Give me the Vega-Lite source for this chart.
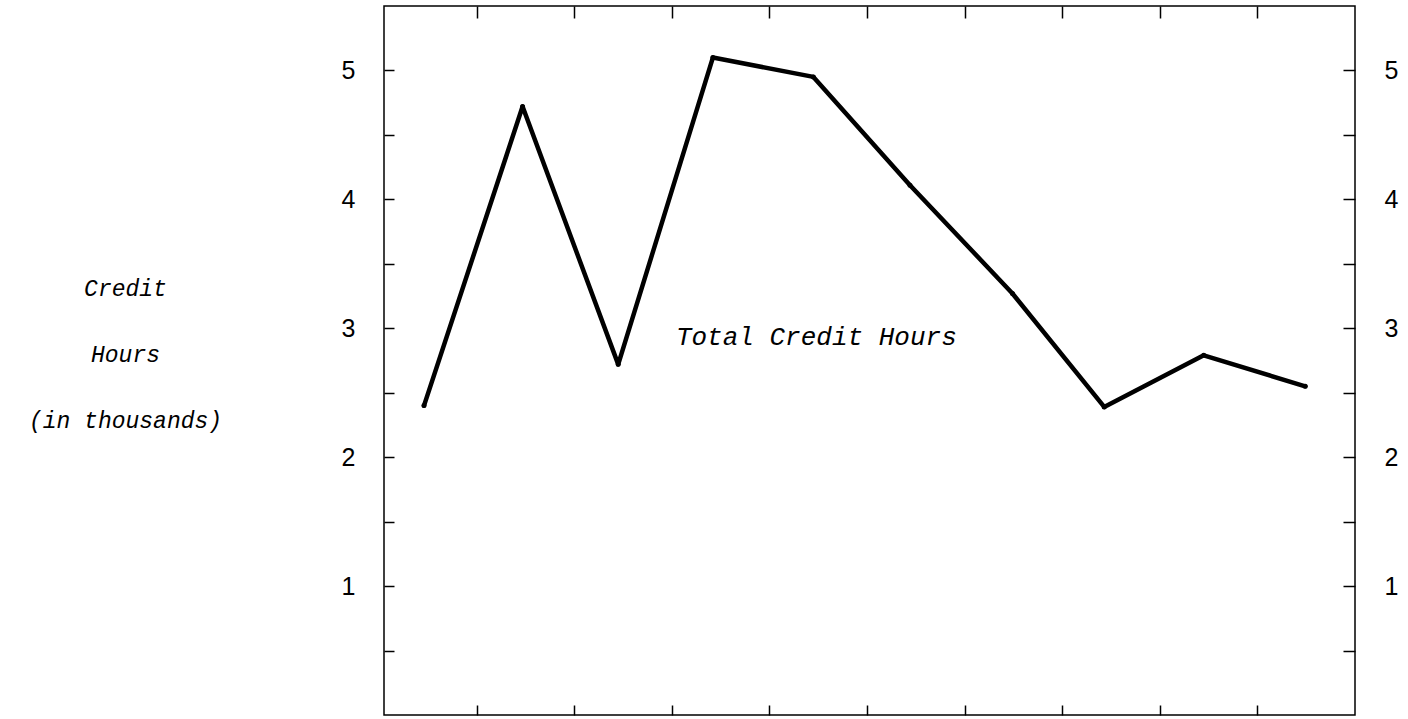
{
  "$schema": "https://vega.github.io/schema/vega-lite/v6.json",
  "width": 971,
  "height": 709,
  "autosize": {"type": "none"},
  "padding": {"left": 384, "top": 6, "right": 53, "bottom": 4},
  "background": "white",
  "config": {
    "view": {"stroke": "black", "strokeWidth": 1.5},
    "axis": {
      "grid": false,
      "domain": false,
      "tickColor": "black",
      "tickWidth": 1.5,
      "labelFont": "Liberation Sans",
      "labelFontSize": 25,
      "labelColor": "black"
    }
  },
  "data": {
    "values": [
      {"period": 0.46, "hours": 2.40},
      {"period": 1.47, "hours": 4.72},
      {"period": 2.45, "hours": 2.72},
      {"period": 3.42, "hours": 5.10},
      {"period": 4.45, "hours": 4.95},
      {"period": 5.44, "hours": 4.11},
      {"period": 6.49, "hours": 3.27},
      {"period": 7.43, "hours": 2.39},
      {"period": 8.45, "hours": 2.79},
      {"period": 9.49, "hours": 2.55}
    ]
  },
  "layer": [
    {
      "mark": {"type": "line", "color": "black", "strokeWidth": 4.5, "strokeJoin": "round", "strokeCap": "round"},
      "encoding": {
        "x": {
          "field": "period", "type": "quantitative",
          "scale": {"domain": [0.05, 10], "nice": false, "zero": false},
          "axis": {"orient": "top", "values": [1, 2, 3, 4, 5, 6, 7, 8, 9], "labels": false, "tickSize": -12, "title": null}
        },
        "y": {
          "field": "hours", "type": "quantitative",
          "scale": {"domain": [0, 5.5], "nice": false},
          "axis": {
            "orient": "left",
            "values": [0.5, 1, 1.5, 2, 2.5, 3, 3.5, 4, 4.5, 5],
            "labelExpr": "datum.value % 1 === 0 ? format(datum.value, 'd') : ''",
            "tickSize": -10,
            "labelPadding": 39,
            "title": ["Credit", "Hours", "(in thousands)"],
            "titleAngle": 0,
            "titleAlign": "center",
            "titleBaseline": "middle",
            "titleX": -259,
            "titleY": 282,
            "titleFont": "Liberation Mono",
            "titleFontStyle": "italic",
            "titleFontWeight": "normal",
            "titleFontSize": 23,
            "titleLineHeight": 66,
            "titleColor": "black"
          }
        }
      }
    },
    {
      "mark": {"type": "point", "filled": true, "color": "black", "size": 25, "opacity": 1},
      "encoding": {
        "x": {
          "field": "period", "type": "quantitative",
          "scale": {"domain": [0.05, 10], "nice": false, "zero": false},
          "axis": {"orient": "bottom", "values": [1, 2, 3, 4, 5, 6, 7, 8, 9], "labels": false, "tickSize": -10, "title": null}
        },
        "y": {
          "field": "hours", "type": "quantitative",
          "scale": {"domain": [0, 5.5], "nice": false},
          "axis": {
            "orient": "right",
            "values": [0.5, 1, 1.5, 2, 2.5, 3, 3.5, 4, 4.5, 5],
            "labelExpr": "datum.value % 1 === 0 ? format(datum.value, 'd') : ''",
            "tickSize": -12,
            "labelPadding": 41,
            "title": null
          }
        }
      }
    },
    {
      "data": {"values": [{"period": 4.48, "hours": 2.93, "label": "Total Credit Hours"}]},
      "mark": {"type": "text", "font": "Liberation Mono", "fontStyle": "italic", "fontSize": 26, "color": "black", "align": "center", "baseline": "middle"},
      "encoding": {
        "x": {"field": "period", "type": "quantitative", "axis": null},
        "y": {"field": "hours", "type": "quantitative", "axis": null},
        "text": {"field": "label"}
      }
    }
  ],
  "resolve": {"axis": {"x": "independent", "y": "independent"}}
}
